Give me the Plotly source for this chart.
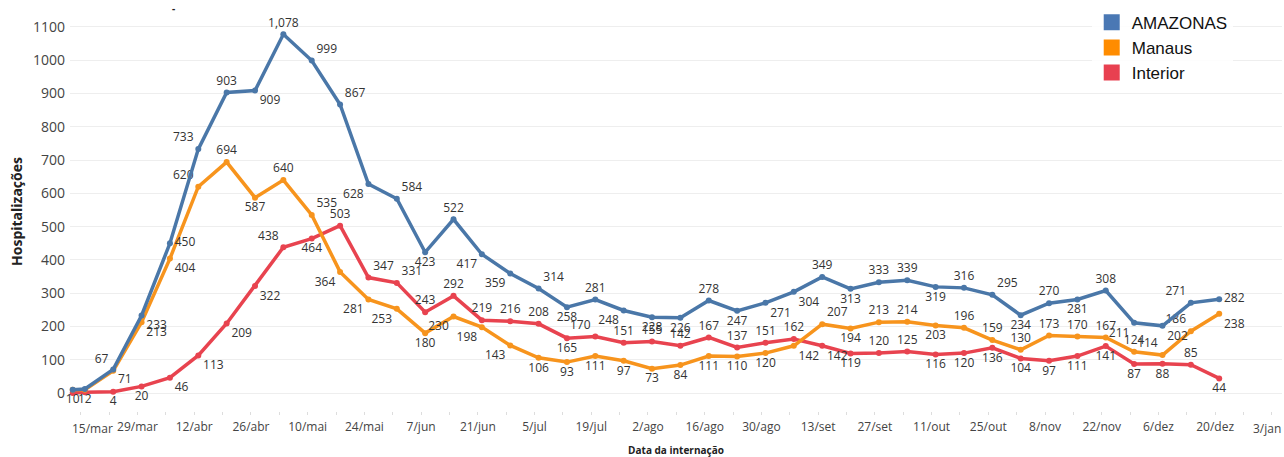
import plotly.graph_objects as go

# Weekly hospitalisations by admission date (Amazonas, 2020)
dates = [
    "2020-03-13", "2020-03-16", "2020-03-23", "2020-03-30", "2020-04-06", "2020-04-13",
    "2020-04-20", "2020-04-27", "2020-05-04", "2020-05-11", "2020-05-18", "2020-05-25",
    "2020-06-01", "2020-06-08", "2020-06-15", "2020-06-22", "2020-06-29", "2020-07-06",
    "2020-07-13", "2020-07-20", "2020-07-27", "2020-08-03", "2020-08-10", "2020-08-17",
    "2020-08-24", "2020-08-31", "2020-09-07", "2020-09-14", "2020-09-21", "2020-09-28",
    "2020-10-05", "2020-10-12", "2020-10-19", "2020-10-26", "2020-11-02", "2020-11-09",
    "2020-11-16", "2020-11-23", "2020-11-30", "2020-12-07", "2020-12-14", "2020-12-21",
]

amazonas = [10, 12, 71, 233, 450, 733, 903, 909, 1078, 999, 867, 628, 584, 423, 522, 417,
            359, 314, 258, 281, 248, 228, 226, 278, 247, 271, 304, 349, 313, 333, 339, 319,
            316, 295, 234, 270, 281, 308, 211, 202, 271, 282]
manaus = [10, 10, 67, 213, 404, 620, 694, 587, 640, 535, 364, 281, 253, 180, 230, 198,
          143, 106, 93, 111, 97, 73, 84, 111, 110, 120, 142, 207, 194, 213, 214, 203,
          196, 159, 130, 173, 170, 167, 124, 114, 186, 238]
interior = [0, 2, 4, 20, 46, 113, 209, 322, 438, 464, 503, 347, 331, 243, 292, 219,
            216, 208, 165, 170, 151, 155, 142, 167, 137, 151, 162, 142, 119, 120, 125, 116,
            120, 136, 104, 97, 111, 141, 87, 88, 85, 44]

tick_dates = ["2020-03-29", "2020-04-12", "2020-04-26", "2020-05-10", "2020-05-24",
              "2020-06-07", "2020-06-21", "2020-07-05", "2020-07-19", "2020-08-02",
              "2020-08-16", "2020-08-30", "2020-09-13", "2020-09-27", "2020-10-11",
              "2020-10-25", "2020-11-08", "2020-11-22", "2020-12-06", "2020-12-20"]
tick_labels = ["29/mar", "12/abr", "26/abr", "10/mai", "24/mai", "7/jun", "21/jun", "5/jul",
               "19/jul", "2/ago", "16/ago", "30/ago", "13/set", "27/set", "11/out", "25/out",
               "8/nov", "22/nov", "6/dez", "20/dez"]
edge_ticks = [("2020-03-15", "15/mar", 12), ("2021-01-03", "3/jan", -5)]

# Label placement for each point of each series
TC, BC, TL, TR, BL, BR, MR = ("top center", "bottom center", "top left", "top right",
                              "bottom left", "bottom right", "middle right")
pos_amazonas = [BC, BC, BR, BR, MR, TL, TC, BR, TC, TR, TR, BL, TR, BC, TC, BL,
                BL, TR, BC, TC, BL, BC, BC, TC, BC, BR, BR, TC, BC, TC, TC, BC,
                TC, TR, BC, TC, BC, TC, BL, BR, TL, MR]
pos_manaus = [BC, BC, TL, BR, BR, TL, TC, BC, TC, TR, BL, BL, BL, BC, BL, BL,
              BL, BC, BC, BC, BC, BC, BC, BC, BC, BC, BR, TR, BC, TC, TC, BC,
              TC, TC, TC, TC, TC, TC, TC, TL, TL, BR]
pos_interior = [BC, BC, BC, BC, BR, BR, BR, BR, TL, BC, TC, TR, TR, TC, TC, TC,
                TC, TC, BC, TL, TC, TC, TC, TC, TC, TC, TC, BR, BC, TC, TC, BC,
                BC, BC, BC, BC, BC, BC, BC, BC, TC, BC]

# Which points carry a value label
lab_amazonas = [True] * len(amazonas)
lab_manaus = [False, False] + [True] * (len(manaus) - 2)
lab_interior = [False, False] + [True] * (len(interior) - 2)

series = [
    ("AMAZONAS", amazonas, pos_amazonas, lab_amazonas, "#4A77A8", "#4A78B4"),
    ("Manaus", manaus, pos_manaus, lab_manaus, "#F7941D", "#FF8C00"),
    ("Interior", interior, pos_interior, lab_interior, "#E8434F", "#E84050"),
]

fig = go.Figure()

for name, vals, pos, show, color, legend_color in reversed(series):
    fig.add_trace(go.Scatter(
        x=dates, y=vals, name=name, mode="lines+markers+text",
        line=dict(color=color, width=3.5),
        marker=dict(color=color, size=6),
        text=[f"{v:,}" if s else "" for v, s in zip(vals, show)],
        textposition=pos,
        textfont=dict(family="Open Sans, DejaVu Sans, sans-serif", size=12, color="#333333"),
        showlegend=False, cliponaxis=False, hoverinfo="x+y+name",
    ))

# Square swatches for the legend
for name, vals, pos, show, color, legend_color in series:
    fig.add_trace(go.Scatter(
        x=[None], y=[None], mode="markers", name=name,
        marker=dict(symbol="square", size=16, color=legend_color),
    ))

annotations = [
    dict(x=d, y=0, xref="x", yref="paper", text=t, showarrow=False, xshift=s, yshift=-3,
         yanchor="top", font=dict(family="Open Sans, DejaVu Sans, sans-serif", size=12, color="#444444"))
    for d, t, s in edge_ticks
]
annotations.append(dict(x=0.0825, y=1.0, xref="paper", yref="paper", text="<b>-</b>",
                        showarrow=False, yanchor="middle", font=dict(size=10, color="#222222")))

fig.update_layout(
    width=1284, height=457,
    margin=dict(l=70, r=2, t=8, b=42),
    paper_bgcolor="white", plot_bgcolor="white",
    font=dict(family="Open Sans, DejaVu Sans, sans-serif", color="#444444"),
    legend=dict(x=0.843, y=1.008, xanchor="left", yanchor="top",
                font=dict(family="Liberation Sans, Arial, sans-serif", size=17, color="#111111"),
                bgcolor="rgba(255,255,255,0.85)", tracegroupgap=0, itemwidth=30),
    annotations=annotations,
    showlegend=True,
)

fig.update_xaxes(
    type="date", range=["2020-03-12 08:00", "2021-01-05 12:00"],
    tickvals=tick_dates, ticktext=tick_labels,
    tickfont=dict(size=12, color="#444444"),
    showgrid=False, zeroline=False, showline=False,
    ticks="inside", ticklen=3, tickcolor="#dddddd", ticklabelstandoff=3,
    minor=dict(ticks="inside", ticklen=3, tickcolor="#dddddd", dtick=7 * 86400000,
               tick0="2020-03-15", showgrid=False),
    title=dict(text="<b>Data da internação</b>", font=dict(size=10, color="#222222"), standoff=14),
)

fig.update_yaxes(
    range=[-66, 1157], tickvals=list(range(0, 1101, 100)),
    tickfont=dict(size=14, color="#444444"),
    showgrid=True, gridcolor="#eeeeee", gridwidth=1, zeroline=False, showline=False,
    ticks="", ticklabelstandoff=4,
    title=dict(text="<b>Hospitalizações</b>", font=dict(size=14, color="#222222"), standoff=7),
)

fig.write_html("out.html")
